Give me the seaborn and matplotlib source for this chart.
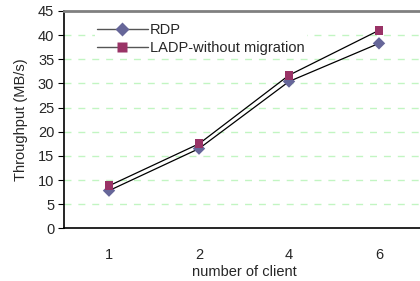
import numpy as np
import pandas as pd
import seaborn as sns
import matplotlib.pyplot as plt
from matplotlib.lines import Line2D

clients = ['1', '2', '4', '6']
rdp = [7.8, 16.5, 30.4, 38.3]
ladp = [8.8, 17.5, 31.7, 41.0]
series_names = ['RDP', 'LADP-without migration']
marker_colors = {'RDP': '#666699', 'LADP-without migration': '#993366'}
marker_shapes = {'RDP': 'D', 'LADP-without migration': 's'}


def main():
    sns.set_style('white')
    plt.rcParams['font.family'] = ['Liberation Sans', 'DejaVu Sans']

    df = pd.DataFrame({
        'client': clients * 2,
        'throughput': rdp + ladp,
        'series': [series_names[0]] * len(clients) + [series_names[1]] * len(clients),
    })

    fig = plt.figure(figsize=(4.2, 2.81), dpi=100)
    ax = fig.add_axes([64 / 420, 52.7 / 281, 360 / 420, 217.3 / 281])

    # black connecting lines, coloured markers on top
    sns.lineplot(data=df, x='client', y='throughput', hue='series',
                 palette={s: 'black' for s in series_names}, linewidth=0.9,
                 legend=False, ax=ax, zorder=3)
    sns.scatterplot(data=df, x='client', y='throughput', hue='series', style='series',
                    palette=marker_colors, markers=marker_shapes, s=40,
                    edgecolor='none', legend=False, ax=ax, zorder=4)

    ax.set_xlim(-0.5, 3.5)
    ax.set_ylim(0, 45)
    ax.set_yticks(np.arange(0, 50, 5))
    ax.set_xticks(range(len(clients)))
    ax.set_xticklabels(clients)
    ax.set_xticks([0.5, 1.5, 2.5], minor=True)

    # dashed light green gridlines
    for v in np.arange(5, 45, 5):
        ax.axhline(v, color='#c2f5c2', linestyle=(0, (5, 5)), linewidth=1, zorder=1)

    ax.tick_params(axis='x', which='major', length=0, pad=14, labelsize=10.5)
    ax.tick_params(axis='x', which='minor', direction='in', length=4, width=0.8, color='black')
    ax.tick_params(axis='y', which='major', direction='out', length=4, width=0.8,
                   color='black', labelsize=10.5, pad=3, left=True)

    ax.set_xlabel('number of client', fontsize=10.5, labelpad=2)
    ax.set_ylabel('Throughput (MB/s)', fontsize=10.5, labelpad=7)

    for side in ['left', 'bottom']:
        ax.spines[side].set_color('black')
        ax.spines[side].set_linewidth(1.2)
    ax.spines['top'].set_color('#808080')
    ax.spines['top'].set_linewidth(2)
    ax.spines['right'].set_visible(False)

    handles = [Line2D([0], [0], color='#555555', linewidth=1, marker=marker_shapes[s],
                      markerfacecolor=marker_colors[s], markeredgecolor='none',
                      markersize=7) for s in series_names]
    leg = ax.legend(handles, series_names, loc='upper left', bbox_to_anchor=(0.065, 0.99),
                    frameon=True, fontsize=10.5, handlelength=3.5, handletextpad=0.15,
                    labelspacing=0.3, borderpad=0.15, fancybox=False)
    leg.get_frame().set_edgecolor('none')
    leg.get_frame().set_facecolor('white')
    leg.get_frame().set_alpha(1)
    leg.set_zorder(5)

    fig.savefig('out.png', dpi=100)


if __name__ == '__main__':
    main()
